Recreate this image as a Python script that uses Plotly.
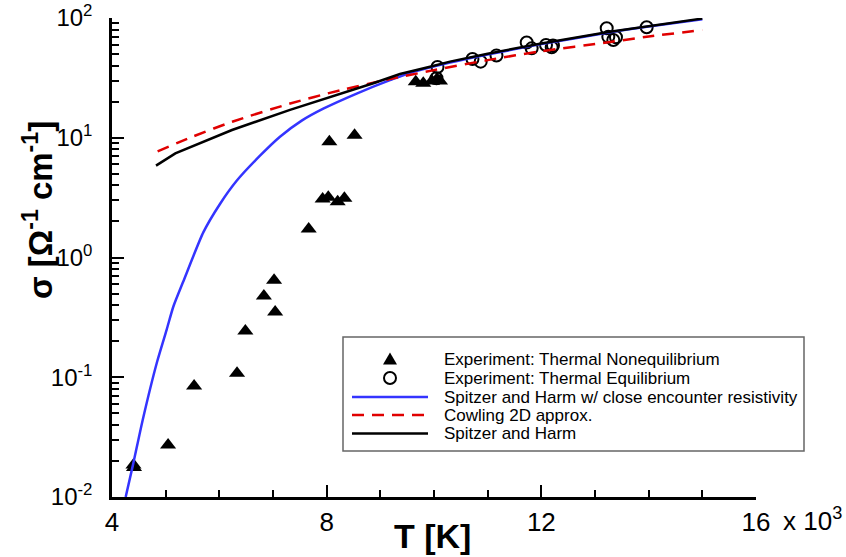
import plotly.graph_objects as go

# ---------------- data ----------------
T_noneq = [4400, 4410, 5045, 5530, 6330, 6485, 6830, 7020, 7040, 7665,
           7925, 8030, 8205, 8330, 8050, 8520, 9660, 9800, 9960, 10056, 10112]
S_noneq = [0.0185, 0.0176, 0.0272, 0.0845, 0.108, 0.243, 0.477, 0.645, 0.351, 1.73,
           3.08, 3.18, 2.92, 3.12, 9.27, 10.5, 29.4, 28.5, 29.8, 30.9, 29.8]

T_eq = [10065, 10046, 10717, 10870, 11164, 11727, 11820, 12087, 12193, 12217,
        13218, 13248, 13341, 13391, 13963]
S_eq = [39.0, 31.4, 45.4, 43.2, 48.6, 62.4, 55.8, 59.5, 56.9, 58.9,
        82.0, 69.8, 65.5, 69.0, 83.6]

T_blue = [4255, 4397, 4572, 4833, 5019, 5142, 5328, 5701, 6012, 6323, 6758, 7130,
          7535, 7937, 8559, 9180, 9366, 9600, 10300, 11000, 12000, 13280, 14000, 15000]
S_blue = [0.010, 0.0191, 0.044, 0.131, 0.25, 0.388, 0.63, 1.62, 2.80, 4.37, 7.08, 10.2,
          13.9, 17.5, 23.4, 30.3, 32.4, 35.3, 42.5, 49.6, 60.5, 76.0, 85.0, 97.5]

T_red = [4850, 5500, 6240, 7320, 8250, 9120, 10000, 11000, 12000, 13280, 14000, 15000]
S_red = [7.7, 10.2, 13.6, 19.3, 24.9, 30.5, 36.7, 44.5, 52.8, 63.0, 70.0, 79.4]

T_black = [4820, 5180, 6236, 7317, 8869, 9366, 9925, 10298, 11000, 12000, 13279, 14000, 15000]
S_black = [5.85, 7.41, 11.6, 17.1, 28.5, 34.1, 39.2, 43.2, 50.3, 61.3, 76.9, 85.9, 98.9]

x_tickvals = [4000, 8000, 12000, 16000]
x_ticktext = ["4", "8", "12", "16"]
x_minor = [5000, 6000, 7000, 9000, 10000, 11000, 13000, 14000, 15000]
y_tickvals = [0.01, 0.1, 1, 10, 100]
y_ticktext = ["10<sup>-2</sup>", "10<sup>-1</sup>", "10<sup>0</sup>", "10<sup>1</sup>", "10<sup>2</sup>"]
y_minor = [k * 10.0 ** d for d in range(-2, 2) for k in range(2, 10)]

legend_names = ["Experiment: Thermal Nonequilibrium",
                "Experiment: Thermal Equilibrium",
                "Spitzer and Harm w/ close encounter resistivity",
                "Cowling 2D approx.",
                "Spitzer and Harm"]

BLUE = "#3434ff"
RED = "#e00000"
FONT = "Arial, Liberation Sans, sans-serif"

W, H = 846, 557
L, R, T, B = 112, 756, 18, 497


def px(xp):
    return (xp - L) / (R - L)


def py(yp):
    return 1 - (yp - T) / (B - T)


fig = go.Figure()
fig.add_trace(go.Scatter(x=T_noneq, y=S_noneq, mode="markers", name=legend_names[0],
                         marker=dict(symbol="triangle-up", size=14, color="black",
                                     line=dict(width=0))))
fig.add_trace(go.Scatter(x=T_eq, y=S_eq, mode="markers", name=legend_names[1],
                         marker=dict(symbol="circle-open", size=12, color="black",
                                     line=dict(width=2, color="black"))))
fig.add_trace(go.Scatter(x=T_blue, y=S_blue, mode="lines", name=legend_names[2],
                         line=dict(color=BLUE, width=2.5, shape="spline", smoothing=0.6)))
fig.add_trace(go.Scatter(x=T_red, y=S_red, mode="lines", name=legend_names[3],
                         line=dict(color=RED, width=2.5, dash="12px,8px", shape="spline", smoothing=0.8)))
fig.add_trace(go.Scatter(x=T_black, y=S_black, mode="lines", name=legend_names[4],
                         line=dict(color="black", width=2.5)))

# ---------------- manual legend (Tecplot style) ----------------
shapes = []
annotations = []
shapes.append(dict(type="rect", xref="paper", yref="paper",
                   x0=px(343), x1=px(804), y0=py(451), y1=py(337),
                   line=dict(color="#666666", width=1.5), fillcolor="white", layer="above"))
rows = [359.5, 378, 397, 415, 433.5]
sx = 390
# triangle
ty = rows[0]
shapes.append(dict(type="path", xref="paper", yref="paper",
                   path=f"M {px(sx-7)},{py(ty+5)} L {px(sx+7)},{py(ty+5)} L {px(sx)},{py(ty-7)} Z",
                   fillcolor="black", line=dict(width=0), layer="above"))
# circle
cy = rows[1]
shapes.append(dict(type="circle", xref="paper", yref="paper",
                   x0=px(sx-6), x1=px(sx+6), y0=py(cy+6), y1=py(cy-6),
                   line=dict(color="black", width=2), layer="above"))
# lines
for yy, col, dash in [(rows[2], BLUE, "solid"), (rows[3], RED, "12px,8px"), (rows[4], "black", "solid")]:
    shapes.append(dict(type="line", xref="paper", yref="paper",
                       x0=px(352), x1=px(428), y0=py(yy), y1=py(yy),
                       line=dict(color=col, width=2.5, dash=dash), layer="above"))
for yy, name in zip(rows, legend_names):
    annotations.append(dict(x=px(442), y=py(yy), xref="paper", yref="paper",
                            text=name, showarrow=False, xanchor="left", yanchor="middle",
                            font=dict(family=FONT, size=17, color="black")))

# axis titles and the "x 10^3" multiplier
annotations.append(dict(x=px(38), y=py(210), xref="paper", yref="paper",
                        text="<b>σ [Ω<sup>-1</sup> cm<sup>-1</sup>]</b>", showarrow=False,
                        textangle=-90, xanchor="center", yanchor="middle",
                        font=dict(family=FONT, size=33, color="black")))
annotations.append(dict(x=px(432), y=py(536), xref="paper", yref="paper",
                        text="<b>T [K]</b>", showarrow=False,
                        xanchor="center", yanchor="middle",
                        font=dict(family=FONT, size=34, color="black")))
annotations.append(dict(x=px(781), y=py(519), xref="paper", yref="paper",
                        text="x 10<sup>3</sup>", showarrow=False,
                        xanchor="left", yanchor="middle",
                        font=dict(family=FONT, size=26, color="black")))

fig.update_layout(
    width=W, height=H,
    margin=dict(l=L, r=W - R, t=T, b=H - B, pad=0),
    paper_bgcolor="white", plot_bgcolor="white",
    showlegend=False,
    font=dict(family=FONT, size=26, color="black"),
    shapes=shapes, annotations=annotations,
    xaxis=dict(range=[4000, 16000], tickmode="array", tickvals=x_tickvals, ticktext=x_ticktext,
               ticks="inside", ticklen=12, tickwidth=2, tickcolor="black",
               showline=True, linewidth=2.5, linecolor="black", mirror=False,
               showgrid=False, zeroline=False, automargin=False,
               tickfont=dict(family=FONT, size=26, color="black"),
               minor=dict(tickmode="array", tickvals=x_minor, ticks="inside",
                          ticklen=7, tickwidth=1.5, tickcolor="black", showgrid=False)),
    yaxis=dict(type="log", range=[-2, 2], tickmode="array", tickvals=y_tickvals, ticktext=y_ticktext,
               ticks="inside", ticklen=12, tickwidth=2, tickcolor="black",
               showline=True, linewidth=2.5, linecolor="black", mirror=False,
               showgrid=False, zeroline=False, automargin=False, ticklabelstandoff=12,
               tickfont=dict(family=FONT, size=24, color="black"),
               minor=dict(tickmode="array", tickvals=y_minor, ticks="inside",
                          ticklen=7, tickwidth=1.5, tickcolor="black", showgrid=False)),
)

fig.write_html("out.html")
